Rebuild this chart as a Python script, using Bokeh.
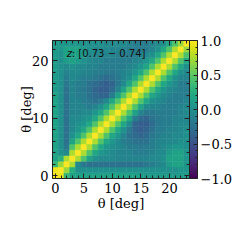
import numpy as np
from bokeh.plotting import figure
from bokeh.models import (Range1d, LinearAxis, SingleIntervalTicker, ColorBar,
                          LinearColorMapper, ColumnDataSource, Label, CustomJSTickFormatter)
from bokeh.palettes import Viridis256
from bokeh.transform import linear_cmap
from bokeh.embed import file_html
from bokeh.resources import INLINE

theta_bins = list(range(24))
x_ticks_interval = 5
y_ticks_interval = 10
cbar_low, cbar_high = -1.0, 1.0
annotation = " : [0.73 \u2212 0.74]"

# lower triangle of the correlation matrix, row i holds columns 0..i
corr_lower = [
    [1.0],
    [0.95, 1.0],
    [0.35, 0.7, 1.0],
    [0.15, 0.25, 0.75, 1.0],
    [0.15, 0.0, -0.05, 0.75, 1.0],
    [0.15, 0.0, -0.2, 0.45, 0.75, 1.0],
    [0.15, 0.0, -0.25, 0.15, 0.45, 0.75, 1.0],
    [0.15, 0.0, -0.25, 0.0, 0.2, 0.45, 0.75, 1.0],
    [0.15, 0.0, -0.25, -0.05, 0.05, 0.2, 0.45, 0.75, 1.0],
    [0.15, 0.0, -0.25, -0.05, 0.0, 0.05, 0.2, 0.45, 0.75, 1.0],
    [0.15, 0.0, -0.25, -0.05, -0.05, 0.0, 0.05, 0.2, 0.45, 0.75, 1.0],
    [0.15, 0.0, -0.25, -0.1, -0.1, -0.05, -0.05, 0.05, 0.2, 0.45, 0.75, 1.0],
    [0.15, 0.0, -0.25, -0.1, -0.1, -0.1, -0.15, -0.1, 0.0, 0.2, 0.45, 0.75, 1.0],
    [0.15, 0.0, -0.25, -0.1, -0.1, -0.15, -0.2, -0.25, -0.2, -0.05, 0.2, 0.45, 0.75, 1.0],
    [0.15, 0.0, -0.25, -0.1, -0.15, -0.15, -0.25, -0.3, -0.35, -0.35, -0.15, 0.15, 0.45, 0.75, 1.0],
    [0.1, 0.0, -0.25, -0.1, -0.15, -0.2, -0.25, -0.35, -0.4, -0.4, -0.3, -0.1, 0.15, 0.45, 0.75, 1.0],
    [0.1, 0.0, -0.2, -0.1, -0.15, -0.15, -0.25, -0.3, -0.35, -0.4, -0.35, -0.2, -0.05, 0.2, 0.45, 0.75, 1.0],
    [0.1, 0.0, -0.15, -0.05, -0.1, -0.15, -0.15, -0.2, -0.25, -0.3, -0.25, -0.2, -0.1, 0.0, 0.2, 0.45, 0.75, 1.0],
    [0.1, 0.0, -0.1, -0.05, -0.05, -0.1, -0.1, -0.15, -0.15, -0.2, -0.2, -0.15, -0.1, -0.05, 0.05, 0.2, 0.45, 0.75, 1.0],
    [0.1, 0.0, -0.05, 0.0, -0.05, -0.05, -0.1, -0.1, -0.15, -0.15, -0.15, -0.15, -0.15, -0.1, -0.05, 0.05, 0.2, 0.45, 0.75, 1.0],
    [0.1, 0.0, 0.1, 0.15, 0.1, 0.0, -0.05, -0.1, -0.1, -0.15, -0.15, -0.15, -0.15, -0.15, -0.1, -0.05, 0.05, 0.2, 0.45, 0.75, 1.0],
    [0.1, 0.0, 0.15, 0.15, 0.15, 0.05, -0.05, -0.05, -0.1, -0.1, -0.1, -0.15, -0.15, -0.15, -0.15, -0.1, -0.05, 0.0, 0.2, 0.45, 0.75, 1.0],
    [0.1, 0.05, 0.15, 0.15, 0.15, 0.05, 0.0, -0.05, -0.05, -0.05, -0.1, -0.1, -0.1, -0.15, -0.15, -0.15, -0.15, -0.1, 0.0, 0.2, 0.45, 0.75, 1.0],
    [0.1, 0.05, 0.05, 0.05, 0.05, 0.0, 0.0, 0.0, 0.0, -0.05, -0.05, -0.05, -0.05, -0.1, -0.15, -0.15, -0.15, -0.1, -0.05, 0.0, 0.2, 0.45, 0.7, 1.0],
]

n = len(theta_bins)
M = np.zeros((n, n))
for i, row in enumerate(corr_lower):
    start = i - len(row) + 1
    for k, v in enumerate(row):
        j = start + k
        M[i, j] = v
        M[j, i] = v

xs, ys, vs = [], [], []
for i in range(n):
    for j in range(n):
        xs.append(theta_bins[j])
        ys.append(theta_bins[i])
        vs.append(M[i, j])
src = ColumnDataSource(dict(x=xs, y=ys, v=vs))

SERIF = "DejaVu Serif"
FS = "13px"

p = figure(frame_width=137, frame_height=138,
           x_range=Range1d(-0.5, 23.5), y_range=Range1d(-0.5, 23.5),
           output_backend="svg", toolbar_location=None,
           min_border_left=52, min_border_top=40, min_border_bottom=40, min_border_right=2)
p.background_fill_color = "white"
p.border_fill_color = "white"
p.outline_line_color = "#222222"
p.outline_line_width = 1
p.grid.visible = False

cmap = linear_cmap("v", Viridis256, cbar_low, cbar_high)
p.rect(x="x", y="y", width=1, height=1, source=src,
       fill_color=cmap, line_color=cmap, line_width=0.5)

def style_axis(ax, interval, show_labels=True, label=None, label_standoff=0):
    ax.ticker = SingleIntervalTicker(interval=interval, num_minor_ticks=5)
    ax.major_tick_in = 5
    ax.major_tick_out = 0
    ax.minor_tick_in = 3
    ax.minor_tick_out = 0
    ax.major_tick_line_color = "#222222"
    ax.minor_tick_line_color = "#222222"
    ax.axis_line_color = "#222222"
    if show_labels:
        ax.major_label_text_font = SERIF
        ax.major_label_text_font_size = FS
        ax.major_label_text_color = "black"
        ax.major_label_standoff = 4
        ax.axis_label = label
        ax.axis_label_text_font = SERIF
        ax.axis_label_text_font_size = FS
        ax.axis_label_text_font_style = "normal"
        ax.axis_label_text_color = "black"
        ax.axis_label_standoff = label_standoff
    else:
        ax.formatter = CustomJSTickFormatter(code="return ''")
        ax.major_label_standoff = 0
        ax.axis_label = None

style_axis(p.xaxis[0], x_ticks_interval, True, "\u03b8 [deg]", 0)
style_axis(p.yaxis[0], y_ticks_interval, True, "\u03b8 [deg]", -5)

top = LinearAxis()
style_axis(top, x_ticks_interval, False)
p.add_layout(top, "above")
right = LinearAxis()
style_axis(right, y_ticks_interval, False)
p.add_layout(right, "right")

mapper = LinearColorMapper(palette=Viridis256, low=cbar_low, high=cbar_high)
cb = ColorBar(color_mapper=mapper, width=8, padding=0, margin=2,
              ticker=SingleIntervalTicker(interval=0.5, num_minor_ticks=5),
              formatter=CustomJSTickFormatter(code="return tick.toFixed(1).replace('-', '\u2212')"),
              major_label_text_font=SERIF, major_label_text_font_size=FS,
              major_label_text_color="black",
              major_tick_in=4, major_tick_out=0, minor_tick_in=2, minor_tick_out=0,
              major_tick_line_color="#222222", minor_tick_line_color="#222222",
              bar_line_color="#222222", bar_line_width=1,
              background_fill_alpha=0, border_line_color=None, label_standoff=3)
p.add_layout(cb, "right")

p.add_layout(Label(x=2.0, y=21.2, text="z", text_font="DejaVu Sans",
                   text_font_style="italic", text_font_size="10px",
                   text_baseline="middle", text_color="#111111"))
p.add_layout(Label(x=2.0, y=21.2, x_offset=5, text=annotation, text_font="DejaVu Sans",
                   text_font_size="10px", text_baseline="middle", text_color="#111111"))

open("out.html", "w").write(file_html(p, INLINE))
